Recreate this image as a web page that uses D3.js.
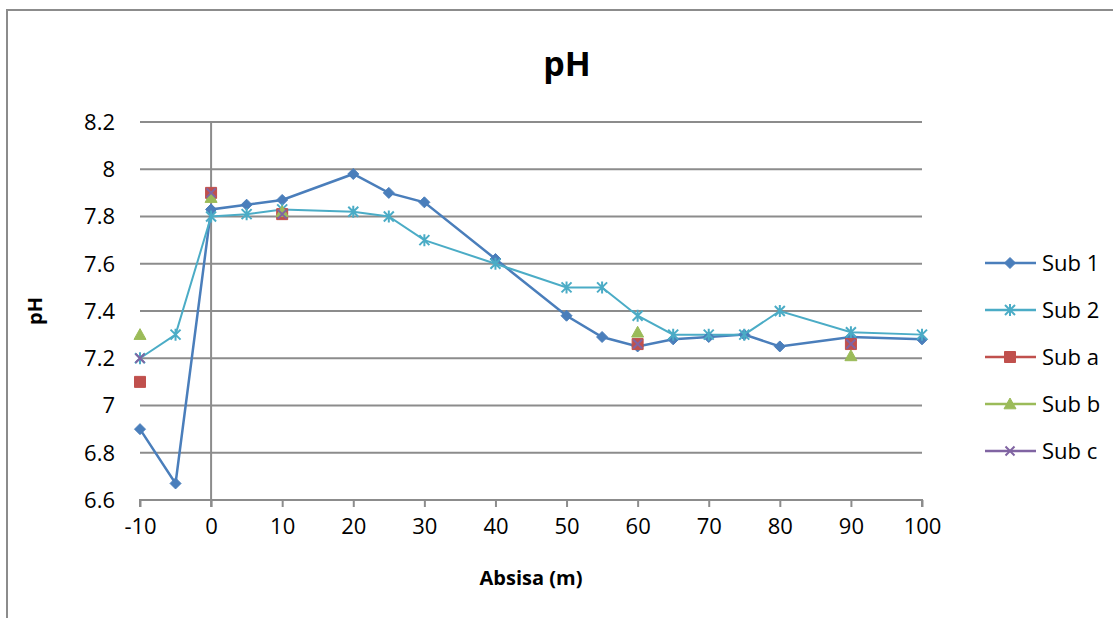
<!DOCTYPE html>
<html>
<head>
<meta charset="utf-8">
<script src="https://cdn.jsdelivr.net/npm/d3@7"></script>
<style>
  html, body { margin: 0; padding: 0; background: #fff; }
  svg { display: block; font-family: "Open Sans", "Noto Sans", sans-serif; }
</style>
</head>
<body>
<svg id="chart" width="1113" height="618"></svg>
<script>
// Sampling positions along the transect (m)
const absisa = [-10, -5, 0, 5, 10, 20, 25, 30, 40, 50, 55, 60, 65, 70, 75, 80, 90, 100];
const sub1 = [6.9, 6.67, 7.83, 7.85, 7.87, 7.98, 7.9, 7.86, 7.62, 7.38, 7.29, 7.25, 7.28, 7.29, 7.3, 7.25, 7.29, 7.28];
const sub2 = [7.2, 7.3, 7.8, 7.81, 7.83, 7.82, 7.8, 7.7, 7.6, 7.5, 7.5, 7.38, 7.3, 7.3, 7.3, 7.4, 7.31, 7.3];

// Spot samples (markers only)
const absisaSpot = [-10, 0, 10, 60, 90];
const subA = [7.1, 7.9, 7.81, 7.26, 7.26];
const subB = [7.3, 7.88, 7.82, 7.31, 7.21];
const subC = [7.2, 7.9, 7.81, 7.26, 7.26];

const xTicks = [-10, 0, 10, 20, 30, 40, 50, 60, 70, 80, 90, 100];
const yTicks = [6.6, 6.8, 7, 7.2, 7.4, 7.6, 7.8, 8, 8.2];

const series = [
  { name: "Sub 1", xs: absisa, ys: sub1, color: "#4A7EBB", marker: "diamond", line: true },
  { name: "Sub 2", xs: absisa, ys: sub2, color: "#4BACC6", marker: "star", line: true },
  { name: "Sub a", xs: absisaSpot, ys: subA, color: "#C0504D", marker: "square", line: false },
  { name: "Sub b", xs: absisaSpot, ys: subB, color: "#9BBB59", marker: "triangle", line: false },
  { name: "Sub c", xs: absisaSpot, ys: subC, color: "#8064A2", marker: "cross", line: false }
];

const svg = d3.select("#chart");
const grid = "#8c8c8c";
const font = "\"Open Sans\", \"Noto Sans\", sans-serif";

// outer frame (top and left edges visible)
svg.append("path")
  .attr("d", "M7,618 L7,10 L1113,10")
  .attr("fill", "none").attr("stroke", grid).attr("stroke-width", 2);

const x = d3.scaleLinear().domain([-10, 100]).range([140, 922]);
const y = d3.scaleLinear().domain([6.6, 8.2]).range([500, 122]);

// horizontal gridlines
svg.append("g").selectAll("line").data(yTicks.slice(1)).join("line")
  .attr("x1", x(-10)).attr("x2", x(100))
  .attr("y1", d => y(d)).attr("y2", d => y(d))
  .attr("stroke", grid).attr("stroke-width", 2);

// y tick labels
svg.append("g").selectAll("text").data(yTicks).join("text")
  .attr("x", 115).attr("y", d => y(d))
  .attr("dy", "0.36em").attr("text-anchor", "end")
  .attr("font-size", 22).attr("fill", "#000")
  .text(d => String(+d.toFixed(1)));

// x axis (at the bottom) with downward ticks
const xAxis = d3.axisBottom(x).tickValues(xTicks).tickSize(7).tickPadding(11).tickFormat(d => String(d));
const gx = svg.append("g").attr("transform", `translate(0,${y(6.6)})`).call(xAxis);
gx.select(".domain").attr("stroke", grid).attr("stroke-width", 2).attr("d", `M${x(-10)},7V0H${x(100)}V7`);
gx.selectAll(".tick line").attr("stroke", grid).attr("stroke-width", 2);
gx.selectAll(".tick text").attr("font-size", 22).attr("fill", "#000").attr("font-family", font);

// vertical axis line crossing at x = 0
svg.append("line")
  .attr("x1", x(0)).attr("x2", x(0)).attr("y1", y(8.2)).attr("y2", y(6.6) + 7)
  .attr("stroke", grid).attr("stroke-width", 2);

// marker shapes
function markerPath(type, s) {
  switch (type) {
    case "diamond": return `M0,${-s}L${s},0L0,${s}L${-s},0Z`;
    case "square": return `M${-s},${-s}H${s}V${s}H${-s}Z`;
    case "triangle": return `M0,${-s}L${s},${s * 0.8}H${-s}Z`;
    case "cross": return `M${-s},${-s}L${s},${s}M${s},${-s}L${-s},${s}`;
    case "star": return `M${-s},${-s}L${s},${s}M${s},${-s}L${-s},${s}M0,${-s * 1.2}V${s * 1.2}`;
  }
}
const markerSize = { diamond: 5.5, square: 5.5, triangle: 6, cross: 4.5, star: 5 };

function drawMarker(g, type, color, cx, cy) {
  const s = markerSize[type];
  const filled = type === "diamond" || type === "square" || type === "triangle";
  g.append("path")
    .attr("transform", `translate(${cx},${cy})`)
    .attr("d", markerPath(type, s))
    .attr("fill", filled ? color : "none")
    .attr("stroke", color)
    .attr("stroke-width", filled ? 1 : 2);
}

const plot = svg.append("g");
series.forEach(sr => {
  const pts = sr.xs.map((v, i) => [v, sr.ys[i]]);
  if (sr.line) {
    plot.append("path")
      .datum(pts)
      .attr("d", d3.line().x(d => x(d[0])).y(d => y(d[1])))
      .attr("fill", "none").attr("stroke", sr.color)
      .attr("stroke-width", sr.name === "Sub 1" ? 2.5 : 2);
  }
});
series.forEach(sr => {
  const g = plot.append("g");
  sr.xs.forEach((v, i) => drawMarker(g, sr.marker, sr.color, x(v), y(sr.ys[i])));
});

// titles
svg.append("text").attr("x", 567).attr("y", 76).attr("text-anchor", "middle")
  .attr("font-size", 34).attr("font-weight", "bold").text("pH");
svg.append("text").attr("x", 531).attr("y", 585).attr("text-anchor", "middle")
  .attr("font-size", 20).attr("font-weight", "bold").text("Absisa (m)");
svg.append("text").attr("transform", "translate(42,311) rotate(-90)").attr("text-anchor", "middle")
  .attr("font-size", 20).attr("font-weight", "bold").text("pH");

// legend
const legend = svg.append("g");
series.forEach((sr, i) => {
  const ly = 263 + i * 47;
  legend.append("line").attr("x1", 985).attr("x2", 1036).attr("y1", ly).attr("y2", ly)
    .attr("stroke", sr.color).attr("stroke-width", 2.5);
  drawMarker(legend, sr.marker, sr.color, 1010, ly);
  legend.append("text").attr("x", 1042).attr("y", ly).attr("dy", "0.36em")
    .attr("font-size", 22).text(sr.name);
});
</script>
</body>
</html>
